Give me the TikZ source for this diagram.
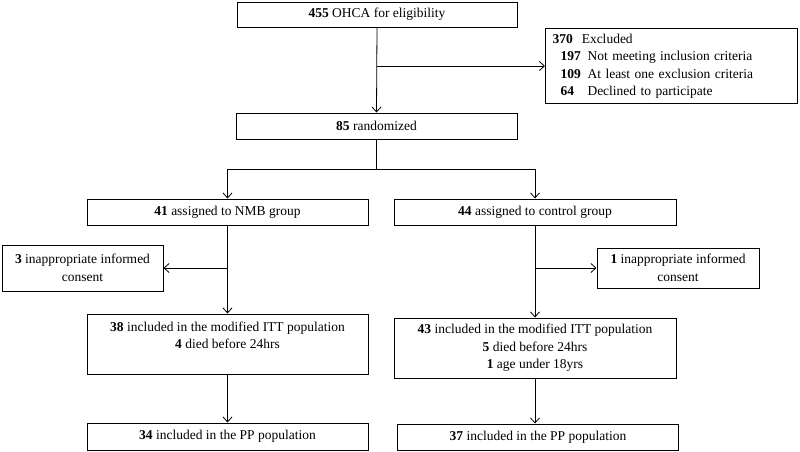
\documentclass[tikz,border=0pt]{standalone}
\usepackage{fontspec}
\setmainfont{Liberation Serif}
\usepackage{tikz}
\usetikzlibrary{calc}
\usetikzlibrary{arrows.meta}

\begin{document}
\begin{tikzpicture} [x=1pt, y=-1pt, font=\fontsize{13.5}{17.5}\selectfont,
  box/.style={draw, line width=1pt, align=center, inner sep=2pt},
  link/.style={line width=.8pt},
  arr/.style={link, -{Straight Barb[length=5pt, width=9pt]}}]
\useasboundingbox (0,0) rectangle (800,451);

\node[box, minimum width=280, minimum height=25] (elig) at (377,14.5) {\textbf{455} OHCA for eligibility};
\node[box, anchor=north west, minimum width=252, minimum height=75, text width=238, inner xsep=7pt, align=left] (excl) at (545,28)
  {\textbf{370}\ \ Excluded\\
   \hspace*{8pt}\makebox[27pt][l]{\textbf{197}}Not meeting inclusion criteria\\
   \hspace*{8pt}\makebox[27pt][l]{\textbf{109}}At least one exclusion criteria\\
   \hspace*{8pt}\makebox[27pt][l]{\textbf{64}}Declined to participate};
\node[box, minimum width=281, minimum height=26] (rand) at (376.5,126) {\textbf{85} randomized};
\coordinate (split) at (376.5,169);

\node[box, minimum width=281, minimum height=26] (nmb) at (227.5,212) {\textbf{41} assigned to NMB group};
\node[box, minimum width=282, minimum height=26] (ctrl) at (535,212) {\textbf{44} assigned to control group};

\node[box, minimum width=161, minimum height=46] (consL) at (82.5,268) {\textbf{3} inappropriate informed\\consent};
\node[box, minimum width=162, minimum height=40] (consR) at (678,268) {\textbf{1} inappropriate informed\\consent};

\node[box, minimum width=281, minimum height=60] (ittL) at (227.5,344) {\textbf{38} included in the modified ITT population\\\textbf{4} died before 24hrs\\\mbox{}};
\node[box, minimum width=282, minimum height=60] (ittR) at (535,348) {\textbf{43} included in the modified ITT population\\\textbf{5} died before 24hrs\\\textbf{1} age under 18yrs};

\node[box, minimum width=281, minimum height=27] (ppL) at (227.5,436.5) {\textbf{34} included in the PP population};
\node[box, minimum width=281, minimum height=26] (ppR) at (538,437) {\textbf{37} included in the PP population};

\draw[arr] (elig.south) -- (rand.north);
\draw[arr] (elig.south |- excl.west) -- (excl.west);
\draw[link] (rand.south) -- (split);
\draw[arr] (split) -| (nmb.north);
\draw[arr] (split) -| (ctrl.north);

\draw[arr] (nmb.south) -- (ittL.north);
\draw[arr] (nmb.south |- consL.east) -- (consL.east);
\draw[arr] (ctrl.south) -- (ittR.north);
\draw[arr] (ctrl.south |- consR.west) -- (consR.west);

\draw[arr] (ittL.south) -- (ppL.north);
\draw[arr] (ittR.south) -- (ittR.south |- ppR.north);

\end{tikzpicture}
\end{document}
